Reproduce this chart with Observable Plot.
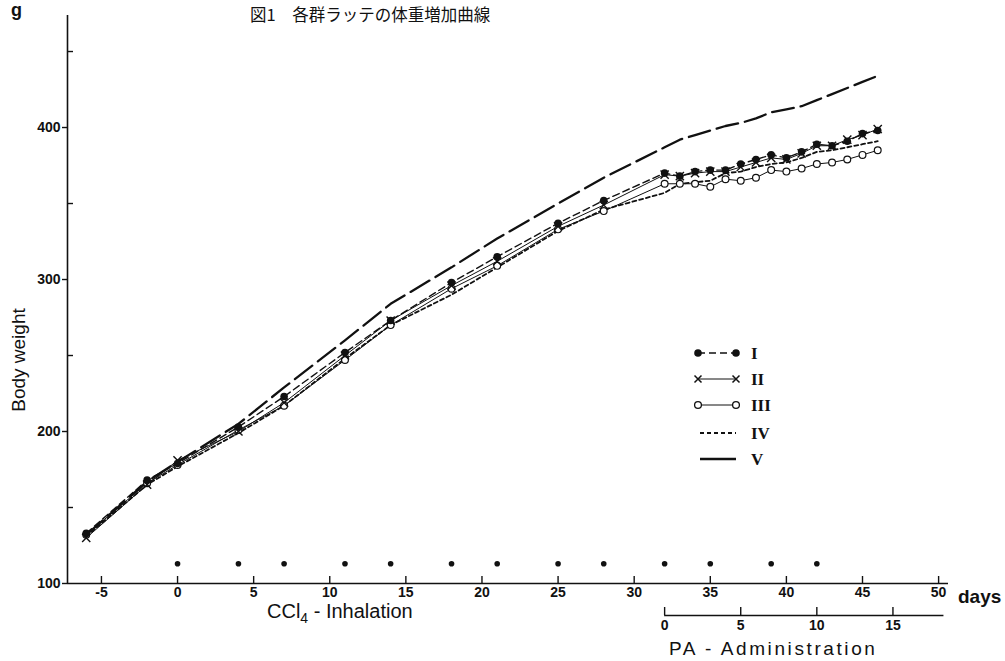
<!DOCTYPE html>
<html><head><meta charset="utf-8">
<script src="https://cdn.jsdelivr.net/npm/d3@7"></script>
<script src="https://cdn.jsdelivr.net/npm/@observablehq/plot@0.6"></script>
<style>
html,body{margin:0;padding:0;background:#fff;}
#chart{position:relative;width:1005px;height:661px;}
</style></head><body><div id="chart"></div>
<script>
// ---- data ----
const days   = [-6,-2,0,4,7,11,14,18,21,25,28,32,33,34,35,36,37,38,39,40,41,42,43,44,45,46];
const groupI   = [133,168,179,203,223,252,273,298,315,337,352,370,368,371,372,372,376,379,382,380,384,389,388,391,396,398];
const groupII  = [130,165,181,200,219,250,273,296,312,335,349,369,368,370,371,371,374,377,380,379,383,388,388,392,395,399];
const groupIII = [132,166,178,201,217,247,270,294,309,333,345,363,363,363,361,366,365,367,372,371,373,376,377,379,382,385];
const groupIV  = [131,165,177,199,217,248,270,290,308,332,346,357,363,364,365,370,371,374,376,377,380,384,385,387,389,391];
const groupV   = [132,167,180,205,229,260,284,308,327,350,367,387,392,395,398,401,403,406,410,412,414,418,422,426,430,434];
const inhalationDays = [0,4,7,11,14,18,21,25,28,32,35,39,42];
const inhalationMarkerWeight = 113;
const xTicks = [-5,0,5,10,15,20,25,30,35,40,45,50];
const yLabelTicks = [100,200,300,400];
const yMinorTicks = [150,250,350,450];
const paStartDay = 32;
const paTicks = [0,5,10,15];
const paAxisEndDay = 50.35;
const xDomain = [-7.23, 50.65];
const yDomain = [100, 473.7];
const legendNames = ["I","II","III","IV","V"];
const titleText = "図1　各群ラッテの体重増加曲線";

// ---- layout ----
const W = 1005, H = 661;
const mL = 67, mR = 57, mT = 15, mB = 78;
const frameW = W - mL - mR, frameH = H - mT - mB;
const rows = vals => days.map((d, i) => ({day: d, w: vals[i]}));

const ink = "#111";
const plot = Plot.plot({
  width: W, height: H,
  marginLeft: mL, marginRight: mR, marginTop: mT, marginBottom: mB,
  x: {domain: xDomain, axis: null},
  y: {domain: yDomain, axis: null},
  style: {fontFamily: "Liberation Sans, Arial, sans-serif", fontSize: "14px", color: ink, background: "white", overflow: "visible"},
  marks: [
    // axes lines
    Plot.ruleX([xDomain[0]], {x: d => d, stroke: ink, strokeWidth: 1.6}),
    Plot.ruleY([yDomain[0]], {y: d => d, stroke: ink, strokeWidth: 1.6}),
    // y ticks
    Plot.tickY(yLabelTicks, {y: d => d, insetRight: frameW - 5, dx: -5, stroke: ink, strokeWidth: 1.4}),
    Plot.tickY(yMinorTicks, {y: d => d, insetRight: frameW - 6, stroke: ink, strokeWidth: 1.4}),
    Plot.text(yLabelTicks, {y: d => d, frameAnchor: "left", dx: -7, textAnchor: "end", text: d => String(d), fontSize: 14, fill: ink, fontWeight: "bold"}),
    // x ticks
    Plot.tickX(xTicks, {x: d => d, insetTop: frameH - 7, stroke: ink, strokeWidth: 1.4}),
    Plot.text(xTicks, {x: d => d, frameAnchor: "bottom", dy: 13, text: d => d < 0 ? "-" + Math.abs(d) : String(d), fontSize: 14, fill: ink, fontWeight: "bold"}),
    // PA-administration secondary axis
    Plot.ruleY([yDomain[0]], {y: d => d, x1: () => paStartDay, x2: () => paAxisEndDay, dy: 32, stroke: ink, strokeWidth: 1.5}),
    Plot.tickX(paTicks, {x: d => paStartDay + d, insetTop: frameH - 8, dy: 32, stroke: ink, strokeWidth: 1.4}),
    Plot.text(paTicks, {x: d => paStartDay + d, frameAnchor: "bottom", dy: 46, text: d => String(d), fontSize: 14, fill: ink, fontWeight: "bold"}),
    // CCl4 inhalation days
    Plot.dot(inhalationDays, {x: d => d, y: () => inhalationMarkerWeight, r: 2.8, fill: ink, stroke: "none"}),
    // series
    Plot.line(rows(groupV),   {x: "day", y: "w", stroke: ink, strokeWidth: 2.3, strokeDasharray: "22,7"}),
    Plot.line(rows(groupIV),  {x: "day", y: "w", stroke: ink, strokeWidth: 1.8, strokeDasharray: "4,3"}),
    Plot.line(rows(groupIII), {x: "day", y: "w", stroke: ink, strokeWidth: 1}),
    Plot.line(rows(groupII),  {x: "day", y: "w", stroke: ink, strokeWidth: 1}),
    Plot.line(rows(groupI),   {x: "day", y: "w", stroke: ink, strokeWidth: 1.4, strokeDasharray: "7,4"}),
    Plot.dot(rows(groupIII),  {x: "day", y: "w", r: 3.4, fill: "white", stroke: ink, strokeWidth: 1.2}),
    Plot.dot(rows(groupII),   {x: "day", y: "w", r: 3.8, symbol: "times", stroke: ink, strokeWidth: 1.4}),
    Plot.dot(rows(groupI),    {x: "day", y: "w", r: 3.8, fill: ink, stroke: "none"})
  ]
});
document.getElementById("chart").appendChild(plot);

// ---- annotations ----
const svg = d3.select(plot);
const sans = "Liberation Sans, Arial, sans-serif";
const ann = svg.append("g").attr("text-anchor", "start");
ann.append("text").attr("x", 250).attr("y", 21).attr("text-anchor", "start").attr("font-family", "Noto Sans CJK JP, sans-serif")
  .attr("font-size", 16.5).attr("fill", ink).text(titleText);
ann.append("text").attr("x", 11).attr("y", 16).attr("text-anchor", "start").attr("font-family", sans).attr("font-weight", "bold")
  .attr("font-size", 18).attr("fill", ink).text("g");
ann.append("text").attr("transform", "translate(25,360) rotate(-90)").attr("text-anchor", "middle")
  .attr("font-family", sans).attr("font-size", 19).attr("fill", ink).text("Body weight");
ann.append("text").attr("x", 958).attr("y", 603).attr("text-anchor", "start").attr("font-family", sans).attr("font-weight", "bold")
  .attr("font-size", 19).attr("fill", ink).text("days");
const ccl = ann.append("text").attr("x", 267).attr("y", 618).attr("text-anchor", "start").attr("font-family", sans)
  .attr("font-size", 20).attr("fill", ink);
ccl.append("tspan").text("CCl");
ccl.append("tspan").attr("dy", 5).attr("font-size", 14).text("4");
ccl.append("tspan").attr("dy", -5).text(" - Inhalation");
ann.append("text").attr("x", 669).attr("y", 655).attr("text-anchor", "start").attr("font-family", sans).attr("letter-spacing", 2.6)
  .attr("font-size", 19).attr("fill", ink).text("PA - Administration");

// legend
const lg = svg.append("g");
const rowY = [353, 379, 405, 433, 459];
const x0 = 698, x1 = 736;
const lineStyles = [
  {dash: "7,4", w: 1.4}, {dash: null, w: 1}, {dash: null, w: 1}, {dash: "4,3", w: 1.8}, {dash: null, w: 2.3}
];
legendNames.forEach((name, i) => {
  const y = rowY[i];
  const st = lineStyles[i];
  const la = i < 3 ? x0 : x0 + 2, lb = x1;
  lg.append("line").attr("x1", la).attr("x2", lb).attr("y1", y).attr("y2", y)
    .attr("stroke", ink).attr("stroke-width", st.w).attr("stroke-dasharray", st.dash);
  [x0, x1].forEach(cx => {
    if (i === 0) lg.append("circle").attr("cx", cx).attr("cy", y).attr("r", 3.8).attr("fill", ink);
    if (i === 1) lg.append("path").attr("d", `M${cx-3.5},${y-3.5}L${cx+3.5},${y+3.5}M${cx-3.5},${y+3.5}L${cx+3.5},${y-3.5}`).attr("stroke", ink).attr("stroke-width", 1.5);
    if (i === 2) lg.append("circle").attr("cx", cx).attr("cy", y).attr("r", 3.4).attr("fill", "white").attr("stroke", ink).attr("stroke-width", 1.3);
  });
  lg.append("text").attr("x", 751).attr("y", y + 6).attr("text-anchor", "start").attr("font-family", "Liberation Serif, serif").attr("font-weight", "bold")
    .attr("font-size", 17).attr("fill", ink).text(name);
});
</script>
</body></html>
